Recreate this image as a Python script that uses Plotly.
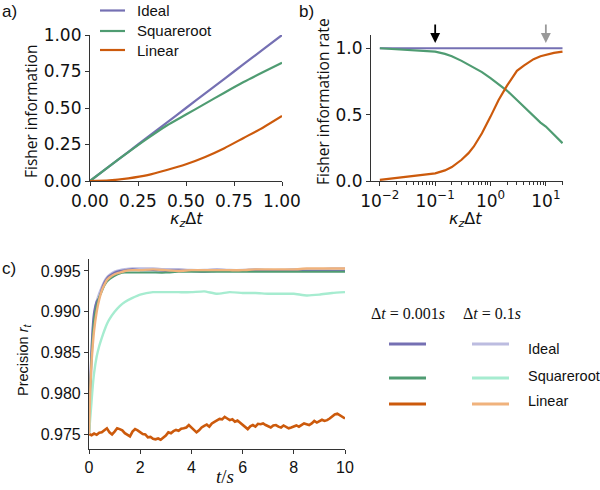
import plotly.graph_objects as go

# ---------------- data ----------------
# panel a
kz_a = [0.0, 0.1, 0.2, 0.3, 0.4, 0.5, 0.6, 0.7, 0.8, 0.9, 1.0]
fi_ideal = [0.0, 0.1, 0.2, 0.3, 0.4, 0.5, 0.6, 0.7, 0.8, 0.9, 1.0]
fi_sqrt = [0.0, 0.1, 0.198, 0.292, 0.38, 0.455, 0.53, 0.605, 0.678, 0.745, 0.81]
fi_lin = [0.0, 0.004, 0.018, 0.040, 0.075, 0.115, 0.165, 0.225, 0.295, 0.365, 0.445]

# panel b
kz_b = [0.01, 0.02, 0.05, 0.1, 0.15, 0.2, 0.3, 0.4, 0.5, 0.7, 1.0, 1.4, 2.0, 3.0, 4.0, 6.0, 8.0, 10.0, 14.0, 20.0]
rate_ideal = [1.0] * len(kz_b)
rate_sqrt = [1.0, 0.992, 0.983, 0.975, 0.958, 0.94, 0.905, 0.876, 0.855, 0.82, 0.775, 0.73, 0.68,
             0.61, 0.56, 0.485, 0.44, 0.41, 0.35, 0.285]
rate_lin = [0.008, 0.023, 0.043, 0.058, 0.08, 0.105, 0.16, 0.21, 0.26, 0.36, 0.485, 0.61, 0.72,
            0.83, 0.87, 0.918, 0.94, 0.952, 0.965, 0.975]

# panel c
t_fast = [0, 0.05, 0.1, 0.15, 0.2, 0.3, 0.4, 0.5, 0.6, 0.7, 0.8, 1.0, 1.2, 1.4, 1.7, 2.0,
          2.5, 3.0, 3.5, 4.0, 4.5, 5.0, 5.5, 6.0, 6.5, 7.0, 7.5, 8.0, 8.5, 9.0, 9.5, 10.0]
prec_ideal_001 = [0.9750, 0.9815, 0.9858, 0.9885, 0.9900, 0.9913, 0.9917, 0.9928, 0.9936, 0.9941,
                  0.9944, 0.9948, 0.9950, 0.9951, 0.9952, 0.9951, 0.9951, 0.9950, 0.9951, 0.9950,
                  0.9949, 0.9950, 0.9950, 0.9951, 0.9950, 0.9950, 0.9950, 0.9951, 0.9950, 0.9950,
                  0.9950, 0.9950]
prec_ideal_1 = [0.9750, 0.9800, 0.9845, 0.9875, 0.9893, 0.9912, 0.9922, 0.9930, 0.9937, 0.9942,
                0.9945, 0.9949, 0.9951, 0.9952, 0.9953, 0.9953, 0.9953, 0.9952, 0.9952, 0.9951,
                0.9951, 0.9952, 0.9951, 0.9951, 0.9952, 0.9951, 0.9951, 0.9952, 0.9952, 0.9952,
                0.9953, 0.9953]
prec_sqrt_001 = [0.9750, 0.9805, 0.9845, 0.9872, 0.9890, 0.9908, 0.9918, 0.9925, 0.9932, 0.9937,
                 0.9940, 0.9944, 0.9947, 0.9948, 0.9948, 0.9948, 0.9948, 0.9948, 0.9949, 0.9949,
                 0.9949, 0.9949, 0.9949, 0.9949, 0.9949, 0.9949, 0.9949, 0.9949, 0.9949, 0.9949,
                 0.9949, 0.9949]
prec_sqrt_1 = [0.9750, 0.9770, 0.9790, 0.9810, 0.9825, 0.9845, 0.9858, 0.9868, 0.9877, 0.9885,
               0.9891, 0.9900, 0.9907, 0.9912, 0.9917, 0.9921, 0.9924, 0.9924, 0.9924, 0.9924,
               0.9925, 0.9922, 0.9924, 0.9923, 0.9923, 0.9922, 0.9922, 0.9922, 0.9920, 0.9921,
               0.9923, 0.9924]
prec_lin_1 = [0.9750, 0.9805, 0.9838, 0.9860, 0.9877, 0.9900, 0.9915, 0.9926, 0.9933, 0.9939,
              0.9942, 0.9946, 0.9948, 0.9950, 0.9951, 0.9951, 0.9952, 0.9951, 0.9950, 0.9951,
              0.9951, 0.9951, 0.9951, 0.9951, 0.9952, 0.9952, 0.9952, 0.9952, 0.9953, 0.9953,
              0.9953, 0.9953]
t_lin = [i / 10 for i in range(101)]
prec_lin_001 = [0.9750, 0.97485, 0.97505, 0.9749, 0.97515, 0.9752, 0.97545, 0.9757, 0.9752, 0.97495,
                0.9753, 0.9757, 0.9756, 0.97545, 0.9751, 0.9749, 0.9747, 0.9753, 0.9756, 0.97545,
                0.9752, 0.9750, 0.97495, 0.9746, 0.97465, 0.9744, 0.97435, 0.97445, 0.9743, 0.97455,
                0.9748, 0.9752, 0.9751, 0.97535, 0.9755, 0.9754, 0.97565, 0.9757, 0.9758, 0.9761,
                0.9758, 0.9756, 0.9752, 0.97545, 0.9758, 0.9760, 0.97615, 0.9759, 0.9763, 0.9765,
                0.9767, 0.97685, 0.9768, 0.9771, 0.9769, 0.9767, 0.9768, 0.9765, 0.97665, 0.9764,
                0.9761, 0.9758, 0.9756, 0.97595, 0.9761, 0.9759, 0.97625, 0.9762, 0.9763, 0.9761,
                0.9759, 0.9758, 0.97605, 0.9761, 0.9759, 0.9758, 0.97605, 0.9759, 0.9757, 0.9758,
                0.9759, 0.97605, 0.9759, 0.9761, 0.9763, 0.9762, 0.9761, 0.9763, 0.9766, 0.9764,
                0.9766, 0.97675, 0.9766, 0.9767, 0.9769, 0.97715, 0.9774, 0.9775, 0.9773, 0.9771,
                0.9769]

series_names = ["Ideal", "Squareroot", "Linear"]

# ---------------- style ----------------
C_PURPLE = "#7570b3"
C_GREEN = "#4f9c72"
C_ORANGE = "#cc5a0c"
L_PURPLE = "#bcbce0"
L_GREEN = "#a6ecd0"
L_ORANGE = "#f0b27c"

W, H = 600, 490
def px(x): return x / W
def py(y): return 1 - y / H

TICKFONT_AB = dict(family="DejaVu Sans", size=17, color="#111")
TICKFONT_C = dict(family="Liberation Sans", size=16, color="#111")

fig = go.Figure()

# panel a
for y, c in zip([fi_ideal, fi_sqrt, fi_lin], [C_PURPLE, C_GREEN, C_ORANGE]):
    fig.add_trace(go.Scatter(x=kz_a, y=y, mode="lines", line=dict(color=c, width=2.2, shape="spline", smoothing=0.6),
                             xaxis="x", yaxis="y", showlegend=False))
# panel b
for y, c in zip([rate_ideal, rate_sqrt, rate_lin], [C_PURPLE, C_GREEN, C_ORANGE]):
    fig.add_trace(go.Scatter(x=kz_b, y=y, mode="lines", line=dict(color=c, width=2.2),
                             xaxis="x2", yaxis="y2", showlegend=False))
# panel c
for y, c, wd in [(prec_ideal_1, L_PURPLE, 2.6), (prec_ideal_001, C_PURPLE, 2.0),
                 (prec_sqrt_001, C_GREEN, 2.0), (prec_sqrt_1, L_GREEN, 2.4)]:
    fig.add_trace(go.Scatter(x=t_fast, y=y, mode="lines", line=dict(color=c, width=wd, shape="spline", smoothing=0.4),
                             xaxis="x3", yaxis="y3", showlegend=False))
fig.add_trace(go.Scatter(x=t_lin, y=prec_lin_001, mode="lines", line=dict(color=C_ORANGE, width=2.6),
                         xaxis="x3", yaxis="y3", showlegend=False))
fig.add_trace(go.Scatter(x=t_fast, y=prec_lin_1, mode="lines", line=dict(color=L_ORANGE, width=2.4, shape="spline", smoothing=0.4),
                         xaxis="x3", yaxis="y3", showlegend=False))

axis_common = dict(showline=True, linecolor="#333", linewidth=1.2, ticks="outside", ticklen=4,
                   tickwidth=1.2, tickcolor="#333", showgrid=False, zeroline=False, automargin=False)

minor_b = [m * 10 ** e for e in (-2, -1, 0, 1) for m in range(2, 10) if m * 10 ** e <= 21]

fig.update_layout(
    width=W, height=H, margin=dict(l=0, r=0, t=0, b=0, pad=0, autoexpand=False),
    paper_bgcolor="white", plot_bgcolor="white",
    xaxis=dict(axis_common, domain=[px(90), px(282)], range=[0, 1], anchor="y",
               tickvals=[0, 0.25, 0.5, 0.75, 1.0], tickformat=".2f", tickfont=TICKFONT_AB),
    yaxis=dict(axis_common, domain=[py(181), py(35)], range=[0, 1], anchor="x",
               tickvals=[0, 0.25, 0.5, 0.75, 1.0], tickformat=".2f", tickfont=TICKFONT_AB),
    xaxis2=dict(axis_common, domain=[px(371), px(563)], type="log", range=[-2.16, 1.31], anchor="y2",
                tickvals=[0.01, 0.1, 1, 10],
                ticktext=["10<sup>−2</sup>", "10<sup>−1</sup>", "10<sup>0</sup>", "10<sup>1</sup>"],
                tickfont=TICKFONT_AB,
                minor=dict(tickvals=minor_b, ticks="outside", ticklen=2.5, tickwidth=0.9, tickcolor="#333")),
    yaxis2=dict(axis_common, domain=[py(181), py(35)], range=[0, 1.1], anchor="x2",
                tickvals=[0, 0.5, 1.0], tickformat=".1f", tickfont=TICKFONT_AB),
    xaxis3=dict(axis_common, domain=[px(89), px(345)], range=[0, 10], anchor="y3",
                tickvals=[0, 2, 4, 6, 8, 10], tickfont=TICKFONT_C),
    yaxis3=dict(axis_common, domain=[py(449), py(259)], range=[0.97316, 0.99647], anchor="x3",
                tickvals=[0.975, 0.98, 0.985, 0.99, 0.995], tickformat=".3f", tickfont=TICKFONT_C),
)

ann = []
shapes = []
def text(x, y, s, size=15, family="Liberation Sans", xanchor="center", yanchor="middle", angle=0, color="#111"):
    ann.append(dict(x=px(x), y=py(y), xref="paper", yref="paper", text=s, showarrow=False,
                    xanchor=xanchor, yanchor=yanchor, textangle=angle,
                    font=dict(family=family, size=size, color=color)))

# panel labels
text(0, 12, "a)", size=17, xanchor="left")
text(297, 12, "b)", size=17, xanchor="left")
text(0, 268, "c)", size=17, xanchor="left")

# panel a legend
for yy, name, c in zip([10.5, 31, 50], series_names, [C_PURPLE, C_GREEN, C_ORANGE]):
    shapes.append(dict(type="line", xref="paper", yref="paper", x0=px(100), x1=px(125), y0=py(yy), y1=py(yy),
                       line=dict(color=c, width=2.2)))
    text(135, yy, name, size=15, xanchor="left")

# axis titles
text(31, 112, "Fisher information", size=15.5, family="Open Sans", angle=-90)
text(323, 102, "Fisher information rate", size=15.5, family="Open Sans", angle=-90)
kz_title = "<i>κ</i><sub><i>z</i></sub>Δ<i>t</i>"
text(186, 219, kz_title, size=16, family="DejaVu Sans")
text(466, 219, kz_title, size=16, family="DejaVu Sans")
text(225, 476, "<i>t</i>/<i>s</i>", size=19, family="Liberation Serif")
text(24, 360, "Precision <i>r</i><sub><i>t</i></sub>", size=14.5, family="Liberation Sans", angle=-90)

# arrows in panel b
for xv, col in [(-1, "black"), (1, "#999999")]:
    ann.append(dict(x=xv, y=1.04, xref="x2", yref="y2", text="", showarrow=True,
                    ax=0, ay=-20, axref="pixel", ayref="pixel",
                    arrowhead=2, arrowsize=1.1, arrowwidth=1.8, arrowcolor=col))

# panel c legend
text(408, 313, "Δ<i>t</i> = 0.001<i>s</i>", size=16, family="Liberation Serif")
text(492, 313, "Δ<i>t</i> = 0.1<i>s</i>", size=16, family="Liberation Serif")
rows = [344, 378, 404]
labels_y = [349, 376, 401]
for r, ly, name, cd, cl in zip(rows, labels_y, series_names, [C_PURPLE, C_GREEN, C_ORANGE], [L_PURPLE, L_GREEN, L_ORANGE]):
    shapes.append(dict(type="line", xref="paper", yref="paper", x0=px(389), x1=px(426), y0=py(r), y1=py(r),
                       line=dict(color=cd, width=3)))
    shapes.append(dict(type="line", xref="paper", yref="paper", x0=px(472), x1=px(509), y0=py(r), y1=py(r),
                       line=dict(color=cl, width=3)))
    text(526, ly, name, size=14.5, xanchor="left")

fig.update_layout(annotations=ann, shapes=shapes)
fig.write_html("out.html", config={"displayModeBar": False},
               post_script="document.body.style.margin='0px';")
